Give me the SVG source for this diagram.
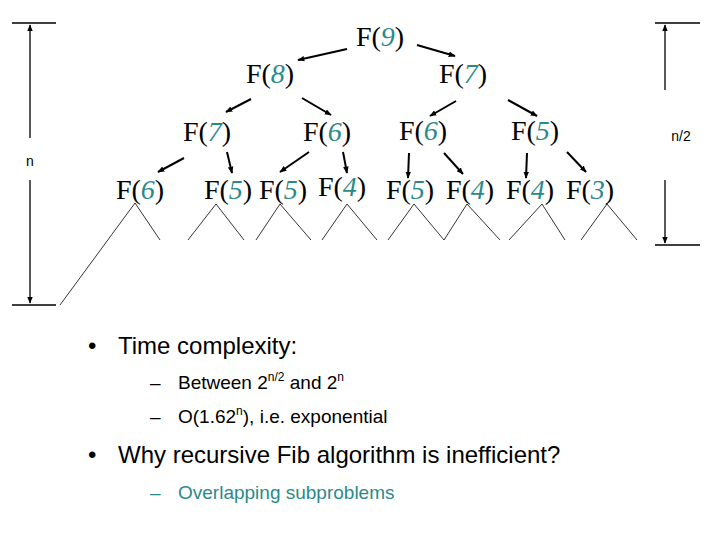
<svg xmlns="http://www.w3.org/2000/svg" width="720" height="540" viewBox="0 0 720 540">
<defs>
<marker id="ah" viewBox="0 0 10 10" refX="9" refY="5" markerWidth="7" markerHeight="7" orient="auto-start-reverse" markerUnits="userSpaceOnUse"><path d="M0,1 L10,5 L0,9 z" fill="#000"/></marker>
<style>
.f{font-family:"Liberation Serif",serif;font-size:28px;fill:#000;text-anchor:middle}
.d{fill:#2a8a8a;font-style:italic}
.a{stroke:#000;stroke-width:2;marker-end:url(#ah);fill:none}
.t{stroke:#000;stroke-width:0.8;fill:none}
.k{stroke:#000;stroke-width:1.3;fill:none}
.s{font-family:"Liberation Sans",Arial,sans-serif;fill:#000}
</style>
</defs>
<rect width="720" height="540" fill="#fff"/>
<g id="n9"><text class="f" x="380" y="46">F(<tspan class="d">9</tspan>)</text></g>
<g id="n8"><text class="f" x="270" y="83">F(<tspan class="d">8</tspan>)</text></g>
<g id="n7a"><text class="f" x="463" y="83">F(<tspan class="d">7</tspan>)</text></g>
<g id="n7b"><text class="f" x="207" y="141">F(<tspan class="d">7</tspan>)</text></g>
<g id="n6a"><text class="f" x="327" y="141">F(<tspan class="d">6</tspan>)</text></g>
<g id="n6b"><text class="f" x="423" y="140">F(<tspan class="d">6</tspan>)</text></g>
<g id="n5a"><text class="f" x="535" y="140">F(<tspan class="d">5</tspan>)</text></g>
<g id="l1"><text class="f" x="140" y="199">F(<tspan class="d">6</tspan>)</text></g>
<g id="l2"><text class="f" x="228" y="199">F(<tspan class="d">5</tspan>)</text></g>
<g id="l3"><text class="f" x="283" y="199">F(<tspan class="d">5</tspan>)</text></g>
<g id="l4"><text class="f" x="342" y="196">F(<tspan class="d">4</tspan>)</text></g>
<g id="l5"><text class="f" x="410" y="199">F(<tspan class="d">5</tspan>)</text></g>
<g id="l6"><text class="f" x="470" y="199">F(<tspan class="d">4</tspan>)</text></g>
<g id="l7"><text class="f" x="530" y="199">F(<tspan class="d">4</tspan>)</text></g>
<g id="l8"><text class="f" x="590" y="199">F(<tspan class="d">3</tspan>)</text></g>
<g id="connectors">
<line class="a" x1="347" y1="49" x2="298" y2="60"/>
<line class="a" x1="417" y1="45" x2="455" y2="56"/>
<line class="a" x1="251" y1="99" x2="226" y2="112"/>
<line class="a" x1="302" y1="98" x2="331" y2="115"/>
<line class="a" x1="456" y1="101" x2="430" y2="116"/>
<line class="a" x1="508" y1="100" x2="537" y2="116"/>
<line class="a" x1="184" y1="158" x2="158" y2="172"/>
<line class="a" x1="227" y1="152" x2="232" y2="173"/>
<line class="a" x1="309" y1="152" x2="280" y2="172"/>
<line class="a" x1="343" y1="152" x2="347" y2="173"/>
<line class="a" x1="409" y1="153" x2="408" y2="178"/>
<line class="a" x1="444" y1="153" x2="463" y2="174"/>
<line class="a" x1="527" y1="153" x2="526" y2="178"/>
<line class="a" x1="567" y1="152" x2="586" y2="172"/>
<path class="t" d="M60,305 L135,203 L160,240 M188,240 L216,204 L244,240 M256,240 L280,204 L311,240 M322,240 L347,204 L377,240 M388,240 L414,204 L444,240 L467,204 L500,240 M509,240 L542,204 L565,240 M581,240 L607,204 L637,240"/>
</g>
<g id="dims">
<path class="k" d="M12,23 H56 M12,305 H56 M655,23 H700 M655,245 H700"/>
<line class="k" x1="30" y1="138" x2="30" y2="25" marker-end="url(#ah)"/>
<line class="k" x1="30" y1="180" x2="30" y2="303" marker-end="url(#ah)"/>
<line class="k" x1="665" y1="90" x2="665" y2="25" marker-end="url(#ah)"/>
<line class="k" x1="665" y1="180" x2="665" y2="243" marker-end="url(#ah)"/>
<text class="s" x="30" y="166" font-size="14" text-anchor="middle">n</text>
<text class="s" x="681" y="141" font-size="14" text-anchor="middle">n/2</text>
</g>
<g id="bullets">
<text class="s" x="88" y="354" font-size="24">•</text>
<text class="s" x="118" y="354" font-size="24">Time complexity:</text>
<text class="s" x="150" y="389" font-size="19">–</text>
<text class="s" x="178" y="389" font-size="19">Between 2<tspan font-size="12" dy="-8">n/2</tspan><tspan dy="8"> and 2</tspan><tspan font-size="12" dy="-8">n</tspan></text>
<text class="s" x="150" y="423" font-size="19">–</text>
<text class="s" x="178" y="423" font-size="19">O(1.62<tspan font-size="12" dy="-8">n</tspan><tspan dy="8">), i.e. exponential</tspan></text>
<text class="s" x="88" y="463" font-size="24">•</text>
<text class="s" x="118" y="463" font-size="24">Why recursive Fib algorithm is inefficient?</text>
<text class="s" x="150" y="499" font-size="19" style="fill:#2a8a8a">–</text>
<text class="s" x="178" y="499" font-size="19" style="fill:#2a8a8a">Overlapping subproblems</text>
</g>
</svg>
